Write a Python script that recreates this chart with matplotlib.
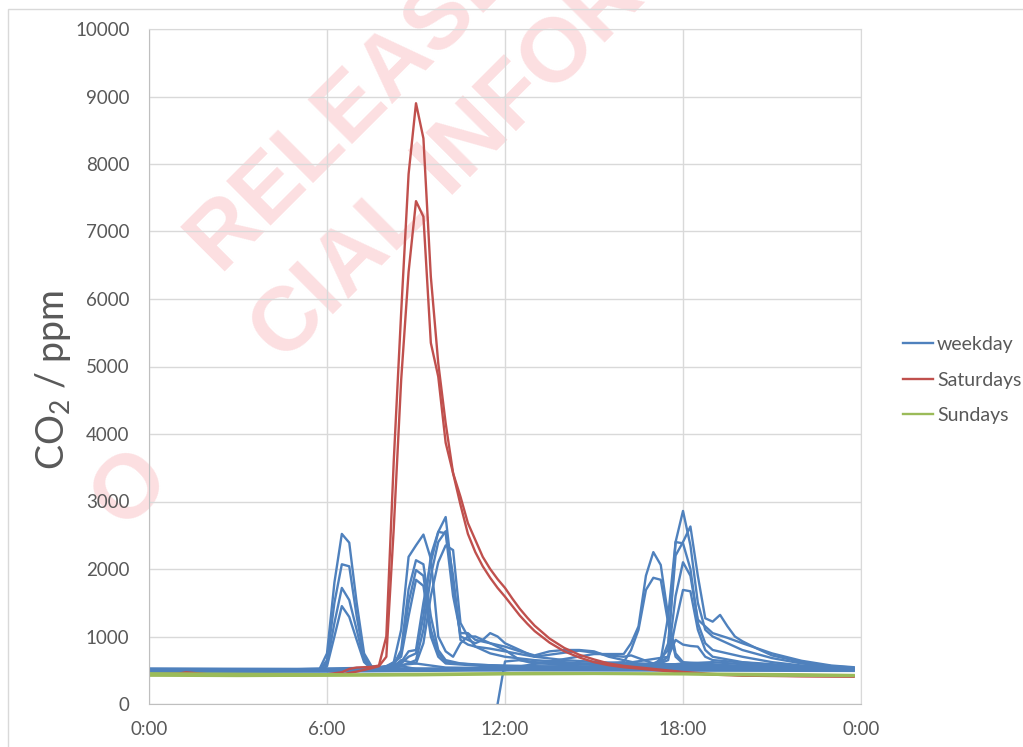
import matplotlib.pyplot as plt
from matplotlib.patches import Rectangle

plt.rcParams['font.family'] = ['Lato', 'DejaVu Sans']
plt.rcParams['mathtext.fontset'] = 'custom'
plt.rcParams['mathtext.rm'] = 'Lato'

# (hour, ppm) vertices
wd01 = [(0, 510), (3, 500), (5.75, 520), (6, 750), (6.25, 1800), (6.5, 2520), (6.75, 2390), (7, 1500), (7.25, 750),
        (7.5, 560), (8, 540), (8.5, 560), (9, 520), (12, 510), (16, 520), (20, 520), (23.75, 505)]
wd02 = [(0, 490), (3, 485), (5.75, 500), (6, 650), (6.25, 1500), (6.5, 2070), (6.75, 2040), (7, 1300), (7.25, 700),
        (7.5, 540), (8.25, 560), (8.5, 650), (9, 600), (10, 540), (14, 520), (18, 530), (23.75, 500)]
wd03 = [(0, 520), (3, 515), (5.75, 510), (6, 600), (6.25, 1200), (6.5, 1720), (6.75, 1540), (7, 1100), (7.25, 650),
        (7.5, 530), (12, 520), (17, 560), (18, 600), (19, 620), (21, 560), (23.75, 520)]
wd04 = [(0, 500), (3, 495), (5.75, 490), (6, 560), (6.25, 1000), (6.5, 1450), (6.75, 1290), (7, 950), (7.25, 620),
        (7.5, 520), (12, 500), (23.75, 490)]
wd05 = [(0, 505), (4, 500), (7.5, 520), (8, 560), (8.25, 620), (8.5, 1100), (8.75, 2180), (9, 2350), (9.25, 2510),
        (9.5, 2150), (9.75, 1000), (10, 780), (10.25, 700), (10.5, 900), (10.75, 1000), (11, 850), (11.5, 750),
        (12, 700), (13, 650), (14, 620), (16, 560), (20, 540), (23.75, 520)]
wd06 = [(0, 495), (4, 490), (7.5, 510), (8, 540), (8.25, 580), (8.5, 800), (8.75, 1700), (9, 2130), (9.25, 2070),
        (9.5, 1300), (9.75, 800), (10, 650), (10.5, 600), (12, 560), (16, 540), (23.75, 510)]
wd07 = [(0, 515), (4, 505), (7.5, 520), (8, 560), (8.25, 600), (8.5, 750), (8.75, 1500), (9, 1985), (9.25, 1900),
        (9.5, 1100), (9.75, 750), (10, 620), (11, 580), (13, 560), (23.75, 515)]
wd08 = [(0, 480), (4, 480), (7.5, 500), (8, 530), (8.5, 700), (8.75, 1300), (9, 1840), (9.25, 1750), (9.5, 1000),
        (9.75, 700), (10, 600), (12, 540), (23.75, 500)]
wd09 = [(0, 500), (5, 495), (8, 520), (8.5, 600), (8.75, 700), (9, 750), (9.25, 1300), (9.5, 2200), (9.75, 2550),
        (10, 2770), (10.25, 1800), (10.5, 1000), (10.75, 950), (11, 900), (11.25, 950), (11.5, 1050), (11.75, 1000),
        (12, 900), (12.5, 800), (13, 700), (14, 650), (16, 600), (20, 560), (23.75, 520)]
wd10 = [(0, 510), (5, 505), (8, 530), (8.5, 620), (8.75, 780), (9, 800), (9.25, 1500), (9.5, 2100), (9.75, 2550),
        (10, 2530), (10.25, 1600), (10.5, 1050), (10.75, 1050), (11, 950), (11.5, 900), (12, 850), (12.5, 780),
        (13, 720), (13.5, 780), (14, 800), (14.5, 800), (15, 780), (15.5, 700), (16, 650), (16.5, 600), (18, 580),
        (23.75, 530)]
wd11 = [(0, 490), (5, 490), (8, 510), (8.5, 560), (9, 650), (9.25, 1100), (9.5, 1900), (9.75, 2400), (10, 2560),
        (10.25, 1900), (10.5, 950), (10.75, 880), (11, 850), (11.5, 820), (12, 780), (13, 700), (14, 760),
        (14.5, 790), (15, 760), (15.5, 720), (16, 700), (16.25, 720), (17, 600), (20, 540), (23.75, 510)]
wd12 = [(0, 525), (5, 520), (8, 540), (8.5, 580), (9, 600), (9.25, 900), (9.5, 1600), (9.75, 2100), (10, 2350),
        (10.25, 2280), (10.5, 1200), (10.75, 1000), (11, 1000), (11.25, 950), (11.5, 900), (12, 800), (12.5, 650),
        (13, 600), (15, 580), (20, 550), (23.75, 520)]
wd13 = [(0, 500), (6, 500), (12, 520), (15, 740), (16, 740), (16.25, 900), (16.5, 1150), (16.75, 1900), (17, 2250),
        (17.25, 2060), (17.5, 1300), (17.75, 750), (18, 620), (20, 560), (23.75, 510)]
wd14 = [(0, 485), (6, 480), (12, 500), (15, 600), (16, 620), (16.25, 800), (16.5, 1100), (16.75, 1690), (17, 1870),
        (17.25, 1840), (17.5, 1200), (17.75, 700), (18, 600), (20, 540), (23.75, 500)]
wd15 = [(0, 505), (6, 500), (12, 530), (16, 560), (17, 600), (17.25, 650), (17.5, 1300), (17.75, 2400), (18, 2860),
        (18.25, 2350), (18.5, 1500), (18.75, 1100), (19, 1000), (19.5, 900), (20, 800), (21, 680), (22, 600),
        (23.75, 530)]
wd16 = [(0, 495), (6, 490), (12, 510), (16, 550), (17, 580), (17.25, 620), (17.5, 900), (17.75, 2200), (18, 2400),
        (18.25, 2630), (18.5, 1900), (18.75, 1270), (19, 1220), (19.25, 1320), (19.5, 1150), (19.75, 1000),
        (20, 930), (20.5, 820), (21, 720), (22, 620), (23, 560), (23.75, 540)]
wd17 = [(0, 515), (6, 510), (12, 520), (17, 560), (17.5, 800), (17.75, 2400), (18, 2380), (18.25, 2000),
        (18.5, 1200), (18.75, 900), (19, 800), (20, 700), (21, 620), (22, 570), (23.75, 525)]
wd18 = [(0, 490), (6, 495), (12, 510), (17, 540), (17.5, 700), (17.75, 1600), (18, 2100), (18.25, 1900),
        (18.5, 1250), (18.75, 1150), (19, 1050), (19.5, 980), (20, 900), (21, 750), (22, 640), (23, 570),
        (23.75, 545)]
wd19 = [(0, 500), (6, 505), (12, 515), (17, 560), (17.5, 650), (17.75, 1200), (18, 1690), (18.25, 1670),
        (18.5, 1100), (18.75, 800), (19, 700), (20, 620), (22, 560), (23.75, 515)]
wd20 = [(11.75, 0), (12, 630), (12.5, 650), (13, 620), (14, 600), (16, 600), (17.5, 700), (17.75, 950), (18, 880),
        (18.25, 860), (18.5, 850), (18.75, 700), (19, 650), (21, 580), (23.75, 510)]

sat1 = [(0, 440), (1, 450), (1.25, 470), (2, 440), (4, 430), (6, 440), (6.5, 470), (6.75, 520), (7, 540), (7.5, 550),
        (7.75, 570), (8, 1000), (8.25, 3600), (8.5, 5800), (8.75, 7850), (9, 8900), (9.25, 8380), (9.5, 6330),
        (9.75, 5050), (10, 4160), (10.25, 3420), (10.5, 3070), (10.75, 2680), (11, 2430), (11.25, 2180), (11.5, 2000),
        (11.75, 1850), (12, 1720), (12.25, 1560), (12.5, 1410), (12.75, 1280), (13, 1160), (13.5, 970), (14, 830),
        (14.5, 730), (15, 660), (15.5, 600), (16, 565), (17, 520), (18, 475), (19, 445), (20, 425), (22, 415),
        (23.75, 410)]
sat2 = [(0, 430), (2, 435), (4, 425), (6, 430), (6.5, 440), (7, 480), (7.5, 530), (7.75, 560), (8, 700), (8.25, 2600),
        (8.5, 4800), (8.75, 6400), (9, 7450), (9.25, 7220), (9.5, 5350), (9.75, 4850), (10, 3870), (10.25, 3420),
        (10.5, 2950), (10.75, 2520), (11, 2250), (11.25, 2040), (11.5, 1870), (11.75, 1720), (12, 1590), (12.25, 1450),
        (12.5, 1310), (12.75, 1190), (13, 1080), (13.5, 910), (14, 780), (14.5, 690), (15, 620), (15.5, 575),
        (16, 545), (17, 505), (18, 465), (19, 435), (20, 420), (22, 410), (23.75, 405)]

sun1 = [(0, 440), (2, 430), (5, 425), (8, 430), (11, 445), (14, 450), (18, 445), (21, 430), (23.75, 425)]
sun2 = [(0, 420), (3, 415), (6, 420), (9, 425), (12, 440), (15, 445), (18, 440), (21, 420), (23.75, 415)]
sun3 = [(0, 455), (4, 445), (7, 440), (10, 450), (13, 460), (16, 455), (19, 450), (22, 440), (23.75, 430)]

weekdays = [wd01, wd02, wd03, wd04, wd05, wd06, wd07, wd08, wd09, wd10,
            wd11, wd12, wd13, wd14, wd15, wd16, wd17, wd18, wd19, wd20]
saturdays = [sat1, sat2]
sundays = [sun1, sun2, sun3]

hour_ticks = [0, 6, 12, 18, 24]
hour_labels = ['0:00', '6:00', '12:00', '18:00', '0:00']

W, H = 1023, 747
fig = plt.figure(figsize=(W / 100, H / 100), dpi=100)
ax = fig.add_axes([149 / W, 1 - 704 / H, 712 / W, 675 / H])
ax.set_facecolor('none')

# outer chart border
fig.patches.append(Rectangle((7.5 / W, -0.1), 1.2, 1.1 - 9.5 / H, transform=fig.transFigure,
                             fill=False, edgecolor='#d9d9d9', lw=1))

# watermark
wm = dict(rotation=45, rotation_mode='anchor', ha='left', va='baseline', fontsize=65,
          fontweight='bold', family='Liberation Sans', color='#fcdfe1', zorder=-1)
fig.text(219 / W, 1 - 271 / H, 'RELEASE', **wm)
fig.text(123 / W, 1 - 530 / H, 'O', **wm)
fig.text(283 / W, 1 - 364 / H, 'CIAL INFORMATION', **wm)

lw = 1.7
for i, s in enumerate(weekdays):
    t, v = zip(*s)
    ax.plot(t, v, color='#4f81bd', lw=lw, label='weekday' if i == 0 else None)
for i, s in enumerate(saturdays):
    t, v = zip(*s)
    ax.plot(t, v, color='#c0504d', lw=lw, label='Saturdays' if i == 0 else None)
for i, s in enumerate(sundays):
    t, v = zip(*s)
    ax.plot(t, v, color='#9bbb59', lw=lw, label='Sundays' if i == 0 else None)

ax.set_xlim(0, 24)
ax.set_ylim(0, 10000)
ax.set_xticks(hour_ticks)
ax.set_xticklabels(hour_labels)
ax.set_yticks(range(0, 10001, 1000))
ax.grid(True, color='#d9d9d9', lw=1)
ax.set_axisbelow(True)
for side in ['top', 'right']:
    ax.spines[side].set_color('#d9d9d9')
for side in ['left', 'bottom']:
    ax.spines[side].set_color('#bfbfbf')
ax.tick_params(axis='both', length=0, labelsize=13.5, labelcolor='#595959')
ax.tick_params(axis='y', pad=14)
ax.tick_params(axis='x', pad=12)

fig.text(53 / W, 1 - 380 / H, r'CO$_\mathregular{2}$ / ppm', rotation=90, ha='center', va='center',
         fontsize=27, color='#595959')

ax.legend(loc='center left', bbox_to_anchor=(903 / W, 1 - 380 / H), bbox_transform=fig.transFigure,
          frameon=False, fontsize=14, labelcolor='#595959', handlelength=1.55, handletextpad=0.2,
          borderpad=0, borderaxespad=0, labelspacing=0.95)

fig.savefig('out.png', dpi=100)
